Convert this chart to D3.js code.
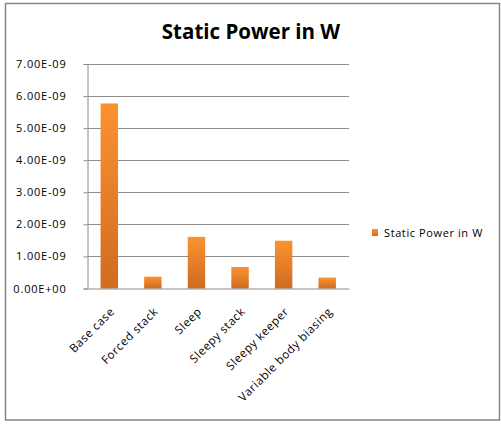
<!DOCTYPE html>
<meta charset="utf-8">
<script src="https://d3js.org/d3.v7.min.js"></script>
<style>
  body { margin: 0; background: #fff; }
  text { font-family: "Open Sans", "DejaVu Sans", sans-serif; fill: #000; }
  .title { font-size: 20.5px; font-weight: bold; }
  .legend { font-size: 11px; letter-spacing: 0.6px; }
</style>
<div id="chart"></div>
<script>
  // data
  var categories = ["Base case", "Forced stack", "Sleep", "Sleepy stack", "Sleepy keeper", "Variable body biasing"];
  var staticPower = [5.77e-9, 0.37e-9, 1.61e-9, 0.67e-9, 1.49e-9, 0.34e-9];
  var yTicks = [0, 1e-9, 2e-9, 3e-9, 4e-9, 5e-9, 6e-9, 7e-9];
  var yTickLabels = ["0.00E+00", "1.00E-09", "2.00E-09", "3.00E-09", "4.00E-09", "5.00E-09", "6.00E-09", "7.00E-09"];
  var seriesName = "Static Power in W";

  var W = 501, H = 424;
  var plot = {left: 87.5, right: 349, top: 64, bottom: 288.5};

  var svg = d3.select("#chart").append("svg")
    .attr("width", W).attr("height", H);

  // outer frame
  svg.append("rect")
    .attr("x", 5.5).attr("y", 3.5)
    .attr("width", 494).attr("height", 416.5)
    .attr("fill", "#fff").attr("stroke", "#868686").attr("stroke-width", 1.5);

  var grad = svg.append("defs").append("linearGradient")
    .attr("id", "barGrad").attr("x1", 0).attr("y1", 0).attr("x2", 0).attr("y2", 1);
  grad.append("stop").attr("offset", "0%").attr("stop-color", "#fb9231");
  grad.append("stop").attr("offset", "100%").attr("stop-color", "#d06b20");

  svg.append("text").attr("class", "title")
    .attr("x", 251).attr("y", 39).attr("text-anchor", "middle")
    .text(seriesName);

  var x = d3.scaleBand().domain(categories)
    .range([plot.left, plot.right]).paddingInner(0.6).paddingOuter(0.3);
  var y = d3.scaleLinear().domain([0, 7e-9]).range([plot.bottom, plot.top]);

  // gridlines
  svg.append("g").selectAll("line").data(yTicks.slice(1)).join("line")
    .attr("x1", plot.left).attr("x2", plot.right)
    .attr("y1", function(d){ return Math.round(y(d)) + 0.5; })
    .attr("y2", function(d){ return Math.round(y(d)) + 0.5; })
    .attr("stroke", "#8c8c8c").attr("stroke-width", 1);

  // y axis
  var yAxis = svg.append("g")
    .attr("transform", "translate(" + plot.left + ",0)")
    .call(d3.axisLeft(y).tickValues(yTicks).tickSize(4).tickPadding(17)
      .tickFormat(function(d, i){ return yTickLabels[i]; }));
  yAxis.selectAll(".domain, line").attr("stroke", "#8c8c8c");
  yAxis.selectAll("text").attr("fill", "#000")
    .style("font-size", "11px").style("letter-spacing", "0.8px")
    .style("font-family", "'Open Sans', sans-serif");

  // bars
  svg.append("g").selectAll("rect").data(staticPower).join("rect")
    .attr("x", function(d, i){ return x(categories[i]); })
    .attr("width", x.bandwidth())
    .attr("y", function(d){ return y(d); })
    .attr("height", function(d){ return y(0) - y(d); })
    .attr("fill", "url(#barGrad)");

  // x axis
  var xAxis = svg.append("g")
    .attr("transform", "translate(0," + plot.bottom + ")")
    .call(d3.axisBottom(x).tickSize(0).tickSizeOuter(0).tickPadding(0));
  xAxis.select(".domain").attr("stroke", "#8c8c8c");
  xAxis.selectAll("text")
    .attr("text-anchor", "end")
    .attr("dy", "0.35em")
    .attr("transform", "translate(3,21) rotate(-45)")
    .attr("fill", "#000")
    .style("font-size", "11.5px").style("letter-spacing", "0.6px")
    .style("font-family", "'Open Sans', sans-serif");

  // legend
  var lg = svg.append("g").attr("class", "legend").attr("transform", "translate(372,229)");
  lg.append("rect").attr("width", 6).attr("height", 7).attr("fill", "url(#barGrad)");
  lg.append("text").attr("x", 12).attr("y", 8).text(seriesName);
</script>
